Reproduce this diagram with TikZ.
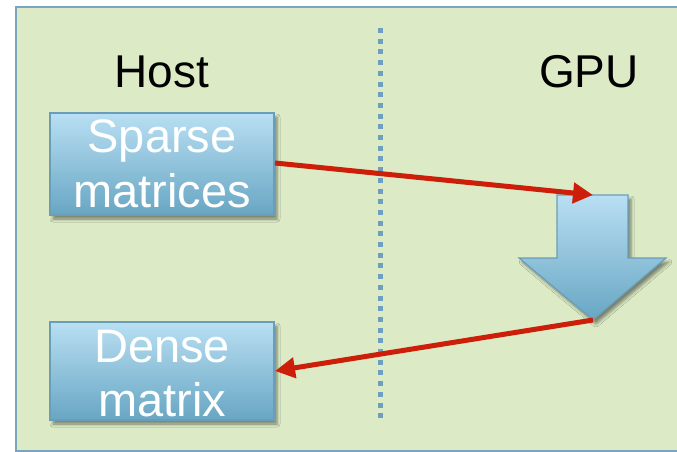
\documentclass[tikz,border=0pt]{standalone}
\usepackage{fontspec}
\setmainfont{Liberation Sans}
\usetikzlibrary{arrows.meta,shadows.blur}
\definecolor{panelfill}{HTML}{DCEBC6}
\definecolor{panelline}{HTML}{7AA5BF}
\definecolor{boxtop}{HTML}{B9DFF3}
\definecolor{boxbot}{HTML}{68A6C3}
\definecolor{boxline}{HTML}{6A9DB8}
\definecolor{divider}{HTML}{6E9FC0}
\definecolor{flow}{HTML}{CC1E08}
\tikzset{
  panel/.style={fill=panelfill,draw=panelline,line width=2pt},
  datablock/.style={draw=boxline,line width=1.2pt,top color=boxtop,bottom color=boxbot,
    minimum width=224pt,minimum height=102pt,inner sep=0pt,
    blur shadow={shadow xshift=3pt,shadow yshift=-4pt,shadow blur radius=3pt,shadow opacity=45}},
  blocktext/.style={text=white,align=center,font=\fontsize{47}{55}\selectfont,anchor=base},
  side/.style={font=\fontsize{46}{50}\selectfont,anchor=base},
  flowarrow/.style={draw=flow,line width=5pt,-{Triangle[length=20pt,width=20pt]}},
}
\begin{document}
\begin{tikzpicture}[x=1pt,y=-1pt]
  \useasboundingbox (0,0) rectangle (677,452);
  % background panel, running off the right edge
  \begin{scope}
    \clip (0,0) rectangle (677,452);
    \node[panel,minimum width=680pt,minimum height=444pt,anchor=north west,inner sep=0pt] (bg) at (15,6) {};
  \end{scope}
  % host / device divider
  \coordinate (divtop) at (380,28);
  \coordinate (divbot) at (380,423);
  \draw[divider,line width=5pt,dash pattern=on 5pt off 5.7pt] (divtop) -- (divbot);
  % column titles
  \node[side] (host) at (162,88) {Host};
  \node[side] (gpu) at (589,88) {GPU};
  % data blocks on the host side
  \node[datablock] (sparse) at (162,164) {};
  \node[blocktext] (sparse1) at (162,152) {Sparse};
  \node[blocktext] (sparse2) at (162,207) {matrices};
  \node[datablock,minimum height=98pt] (dense) at (162,371) {};
  \node[blocktext] (dense1) at (162,362) {Dense};
  \node[blocktext] (dense2) at (162,416) {matrix};
  % processing step on the GPU: a downward block arrow
  \coordinate (ktop) at (593,195);
  \coordinate (ktip) at (593,320);
  \path[draw=boxline,line width=1.2pt,top color=boxtop,bottom color=boxbot,
    blur shadow={shadow xshift=3pt,shadow yshift=-4pt,shadow blur radius=3pt,shadow opacity=45}]
    (557,195) -- (628,195) -- (628,258) -- (666,258) -- (ktip) -- (519,258) -- (557,258) -- cycle;
  % transfers between host and GPU
  \coordinate (sparseout) at (275,163);
  \coordinate (densein) at (275,371);
  \draw[flowarrow] (sparseout) -- (ktop);
  \draw[flowarrow] (ktip) -- (densein);
\end{tikzpicture}
\end{document}
